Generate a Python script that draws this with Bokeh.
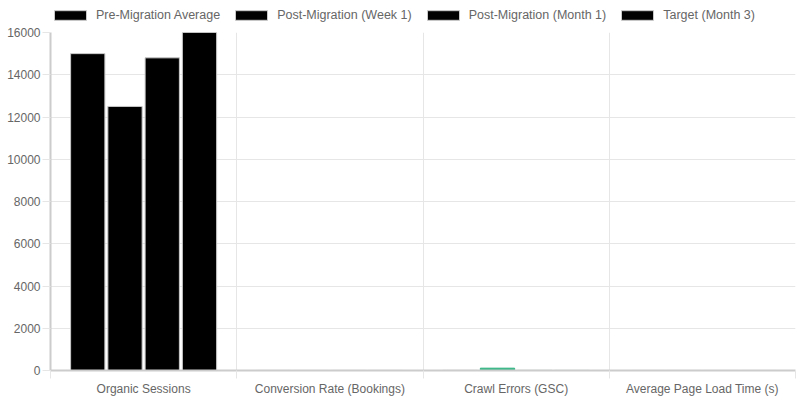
from bokeh.plotting import figure
from bokeh.models import ColumnDataSource, Range1d, FixedTicker, Legend, LegendItem
from bokeh.layouts import column
from bokeh.embed import file_html
from bokeh.resources import INLINE

categories = ["Organic Sessions", "Conversion Rate (Bookings)", "Crawl Errors (GSC)", "Average Page Load Time (s)"]
series_names = ["Pre-Migration Average", "Post-Migration (Week 1)", "Post-Migration (Month 1)", "Target (Month 3)"]
pre_migration = [15000, 3.2, 8, 2.1]
week_1 = [12500, 2.6, 110, 2.8]
month_1 = [14800, 3.0, 10, 2.4]
target = [16000, 3.5, 6, 1.8]
series_values = [pre_migration, week_1, month_1, target]
series_colors = [
    ["#000000", "#000000", "#000000", "#000000"],
    ["#000000", "#000000", "#2fb380", "#000000"],
    ["#000000", "#000000", "#9fd8c0", "#000000"],
    ["#000000", "#000000", "#9fd8c0", "#000000"],
]
series_edges = [
    ["#c8c8c8", "#c8c8c8", "#c8c8c8", "#c8c8c8"],
    ["#c8c8c8", "#c8c8c8", "#2fb380", "#c8c8c8"],
    ["#c8c8c8", "#c8c8c8", "#b7d9cb", "#c8c8c8"],
    ["#c8c8c8", "#c8c8c8", "#b7d9cb", "#c8c8c8"],
]
y_ticks = [0, 2000, 4000, 6000, 8000, 10000, 12000, 14000, 16000]

FONT = "Liberation Sans"
TXT = "#666666"
GRID = "#e6e6e6"
EDGE = "#c8c8c8"

# ---- legend strip ----
lg = figure(width=797, height=27, output_backend="svg", toolbar_location=None,
            x_range=Range1d(0, 1), y_range=Range1d(0, 1),
            min_border=0, x_axis_type=None, y_axis_type=None)
lg.outline_line_color = None
lg.xgrid.visible = False
lg.ygrid.visible = False
items = []
for name in series_names:
    dummy = ColumnDataSource(dict(x=[-10], top=[0]))
    r = lg.vbar(x="x", top="top", width=0.1, source=dummy,
                fill_color="#000000", line_color=EDGE, line_width=1)
    items.append(LegendItem(label=name, renderers=[r]))
legend = Legend(items=items, orientation="horizontal", location=(0, 5))
legend.glyph_width = 40
legend.glyph_height = 12
legend.label_height = 12
legend.label_text_font = FONT
legend.label_text_font_size = "12.5px"
legend.label_text_color = TXT
legend.label_standoff = 6
legend.spacing = 11
legend.padding = 0
legend.margin = 0
legend.border_line_color = None
legend.background_fill_alpha = 0
lg.add_layout(legend, "center")

# ---- main chart ----
p = figure(frame_width=745, frame_height=338, output_backend="svg", toolbar_location=None,
           x_range=Range1d(0, len(categories)), y_range=Range1d(0, 16000),
           min_border_left=50, min_border_right=2, min_border_top=5, min_border_bottom=0)
p.outline_line_color = None

n = len(series_names)
group = 0.8
slot = group / n
for j, (name, vals, cols, edges) in enumerate(zip(series_names, series_values, series_colors, series_edges)):
    xs = [i + 0.5 - group / 2 + slot * (j + 0.5) for i in range(len(categories))]
    src = ColumnDataSource(dict(x=xs, top=vals, color=cols, edge=edges))
    p.vbar(x="x", top="top", bottom=0, width=slot * 0.92, source=src,
           fill_color="color", line_color="edge", line_width=1)

# x axis
p.xaxis.ticker = FixedTicker(ticks=[i + 0.5 for i in range(len(categories))],
                             minor_ticks=list(range(len(categories) + 1)))
p.xaxis.major_label_overrides = {i + 0.5: c for i, c in enumerate(categories)}
p.xaxis.major_tick_out = 0
p.xaxis.major_tick_in = 0
p.xaxis.minor_tick_out = 8
p.xaxis.minor_tick_in = 0
p.xaxis.minor_tick_line_color = GRID
p.xaxis.axis_line_color = "#cccccc"
p.xaxis.axis_line_width = 2
p.xaxis.major_label_standoff = 3
p.xaxis.major_label_text_font = FONT
p.xaxis.major_label_text_font_size = "12px"
p.xaxis.major_label_text_color = TXT
p.xgrid.ticker = FixedTicker(ticks=list(range(len(categories) + 1)))
p.xgrid.grid_line_color = GRID

# y axis
p.yaxis.ticker = FixedTicker(ticks=y_ticks)
p.yaxis.major_tick_out = 8
p.yaxis.major_tick_in = 0
p.yaxis.major_tick_line_color = GRID
p.yaxis.minor_tick_line_color = None
p.yaxis.axis_line_color = "#cccccc"
p.yaxis.axis_line_width = 2
p.yaxis.major_label_standoff = 2
p.yaxis.major_label_text_font = FONT
p.yaxis.major_label_text_font_size = "12px"
p.yaxis.major_label_text_color = TXT
p.ygrid.ticker = FixedTicker(ticks=y_ticks)
p.ygrid.grid_line_color = GRID

layout = column(lg, p, spacing=0)
open("out.html", "w").write(file_html(layout, INLINE))
